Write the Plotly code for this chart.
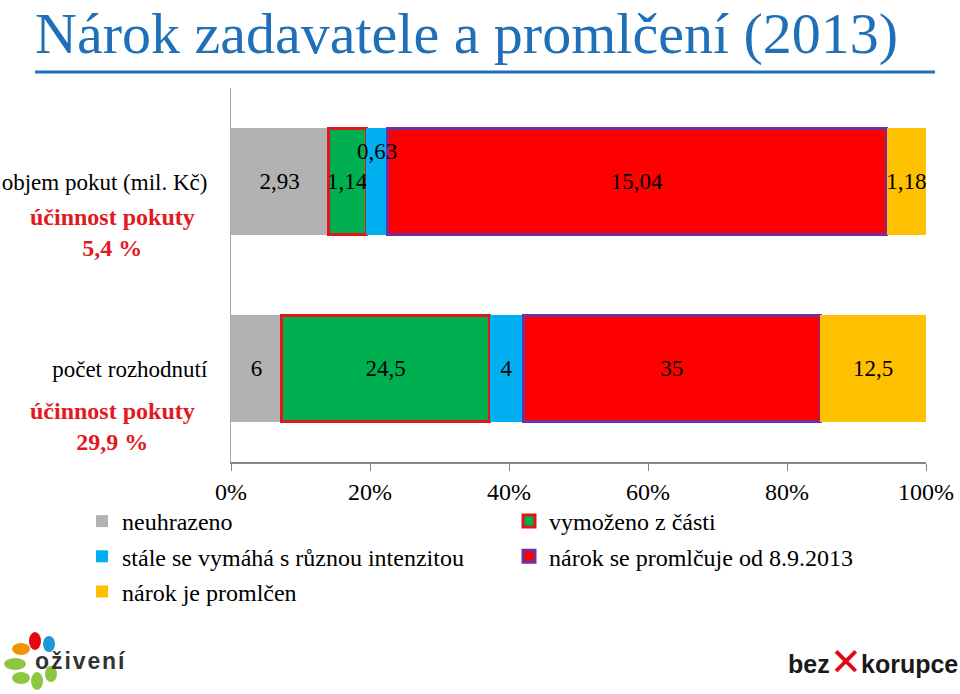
import plotly.graph_objects as go

categories = ["objem pokut (mil. Kč)", "počet rozhodnutí"]
series_names = ["neuhrazeno", "vymoženo z části", "stále se vymáhá s různou intenzitou",
                "nárok se promlčuje od 8.9.2013", "nárok je promlčen"]
neuhrazeno = [2.93, 6]
vymozeno = [1.14, 24.5]
vymaha = [0.63, 4]
promlcuje = [15.04, 35]
promlcen = [1.18, 12.5]
series_values = [neuhrazeno, vymozeno, vymaha, promlcuje, promlcen]
colors = ["#B2B2B2", "#00B050", "#00B0F0", "#FF0000", "#FFC000"]
outlines = [None, "#E0161B", None, "#7030A0", None]
x_ticks = [0, 20, 40, 60, 80, 100]
x_ticktext = ["0%", "20%", "40%", "60%", "80%", "100%"]

# plot area in pixels
L, R, T, B = 231, 926, 88, 462
W, H = 960, 694
def px(x):
    return (x - L) / (R - L)
def py(y):
    return (B - y) / (B - T)

SERIF = "Liberation Serif"
FS = 24
fig = go.Figure()

def fmt(v):
    return ("%g" % v).replace(".", ",")

legend_for = ["legend", "legend2", "legend", "legend2", "legend"]
for i, (name, vals) in enumerate(zip(series_names, series_values)):
    texts = [fmt(v) for v in vals]
    if i == 2:
        texts[0] = ""  # drawn shifted above, as in the reference
    line = dict(width=3, color=outlines[i]) if outlines[i] else dict(width=0)
    fig.add_trace(go.Bar(
        y=categories, x=vals, name=name, orientation="h",
        marker=dict(color=colors[i], line=line),
        text=texts, textposition="inside", insidetextanchor="middle",
        textangle=0, constraintext="none", cliponaxis=False,
        insidetextfont=dict(family=SERIF, size=FS - 1, color="black"),
        width=0.57, legend=legend_for[i], legendgroup="g%d" % i,
        hoverinfo="x+y+name",
    ))

# shifted label for small blue segment in the first bar
tot0 = sum(v[0] for v in series_values)
mid = (neuhrazeno[0] + vymozeno[0] + vymaha[0] / 2) / tot0 * 100
fig.add_annotation(x=mid, y=categories[0], xref="x", yref="y", yshift=30,
                   text=fmt(vymaha[0]), showarrow=False,
                   font=dict(family=SERIF, size=FS - 1, color="black"))

annotations = [
    dict(x=px(112), y=py(232), text="<b>účinnost pokuty<br>5,4 %</b>"),
    dict(x=px(112), y=py(426), text="<b>účinnost pokuty<br>29,9 %</b>"),
]
for a in annotations:
    fig.add_annotation(xref="paper", yref="paper", showarrow=False, align="center",
                       xanchor="center", yanchor="middle",
                       font=dict(family=SERIF, size=FS, color="#E3191F"), **a)

# title
fig.add_annotation(xref="paper", yref="paper", x=px(33), y=py(33), xanchor="left",
                   yanchor="middle", showarrow=False,
                   text="Nárok zadavatele a promlčení (2013)",
                   font=dict(family=SERIF, size=58, color="#1F70B8"))
fig.add_shape(type="line", xref="paper", yref="paper", x0=px(35), x1=px(935),
              y0=py(72), y1=py(72), line=dict(color="#1F70B8", width=3))

# logos (approximation): (cx, cy, half-width, half-height, colour)
petals = [(21, 649, 9, 6, "#F39200"), (35, 641, 6, 9, "#E30613"), (49, 644, 6, 8, "#1D9AD6"),
          (15, 664, 11, 6, "#8DC63F"), (21, 678, 9, 6, "#8DC63F"),
          (37, 681, 6, 9, "#8DC63F"), (51, 674, 6, 8, "#8DC63F")]
for (cx, cy, hw, hh, c) in petals:
    fig.add_shape(type="circle", xref="paper", yref="paper",
                  x0=px(cx - hw), x1=px(cx + hw), y0=py(cy - hh), y1=py(cy + hh),
                  fillcolor=c, line=dict(width=0))
fig.add_annotation(xref="paper", yref="paper", x=px(33), y=py(661), xanchor="left",
                   yanchor="middle", showarrow=False, text="<b>o\u200až\u200ai\u200av\u200ae\u200an\u200aí</b>",
                   font=dict(family="Liberation Sans", size=23, color="#333333"))
fig.add_annotation(xref="paper", yref="paper", x=px(786), y=py(664), xanchor="left",
                   yanchor="middle", showarrow=False, text="<b>bez</b>",
                   font=dict(family="Liberation Sans", size=25, color="#1A1A1A"))
fig.add_annotation(xref="paper", yref="paper", x=px(846), y=py(662), xanchor="center",
                   yanchor="middle", showarrow=False, text="<b>✕</b>",
                   font=dict(family="DejaVu Sans", size=38, color="#E30613"))
fig.add_annotation(xref="paper", yref="paper", x=px(859), y=py(664), xanchor="left",
                   yanchor="middle", showarrow=False, text="<b>korupce</b>",
                   font=dict(family="Liberation Sans", size=25, color="#1A1A1A"))

legend_common = dict(orientation="v", xanchor="left", yanchor="top",
                     font=dict(family=SERIF, size=FS, color="black"),
                     bgcolor="rgba(0,0,0,0)", tracegroupgap=1, itemclick=False)
fig.update_layout(
    width=W, height=H, barmode="stack", barnorm="percent",
    separators=", ",
    margin=dict(l=L, r=W - R, t=T, b=H - B),
    plot_bgcolor="white", paper_bgcolor="white",
    showlegend=True,
    legend=dict(x=px(82), y=py(499), **legend_common),
    legend2=dict(x=px(509), y=py(499), **legend_common),
    xaxis=dict(range=[0, 100], tickvals=x_ticks, ticktext=x_ticktext,
               showgrid=False, zeroline=False, showline=True, linecolor="#868686",
               linewidth=1.5, ticks="outside", ticklen=7, tickcolor="#868686",
               tickfont=dict(family=SERIF, size=FS, color="black"), fixedrange=True,
               automargin=False),
    yaxis=dict(categoryorder="array", categoryarray=categories,
               range=[1.5, -0.5], showgrid=False, zeroline=False, showline=True,
               linecolor="#A6A6A6", linewidth=1, ticks="",
               ticklabelstandoff=18, automargin=False,
               tickfont=dict(family=SERIF, size=FS - 1, color="black"), fixedrange=True),
)

fig.write_html("out.html")
